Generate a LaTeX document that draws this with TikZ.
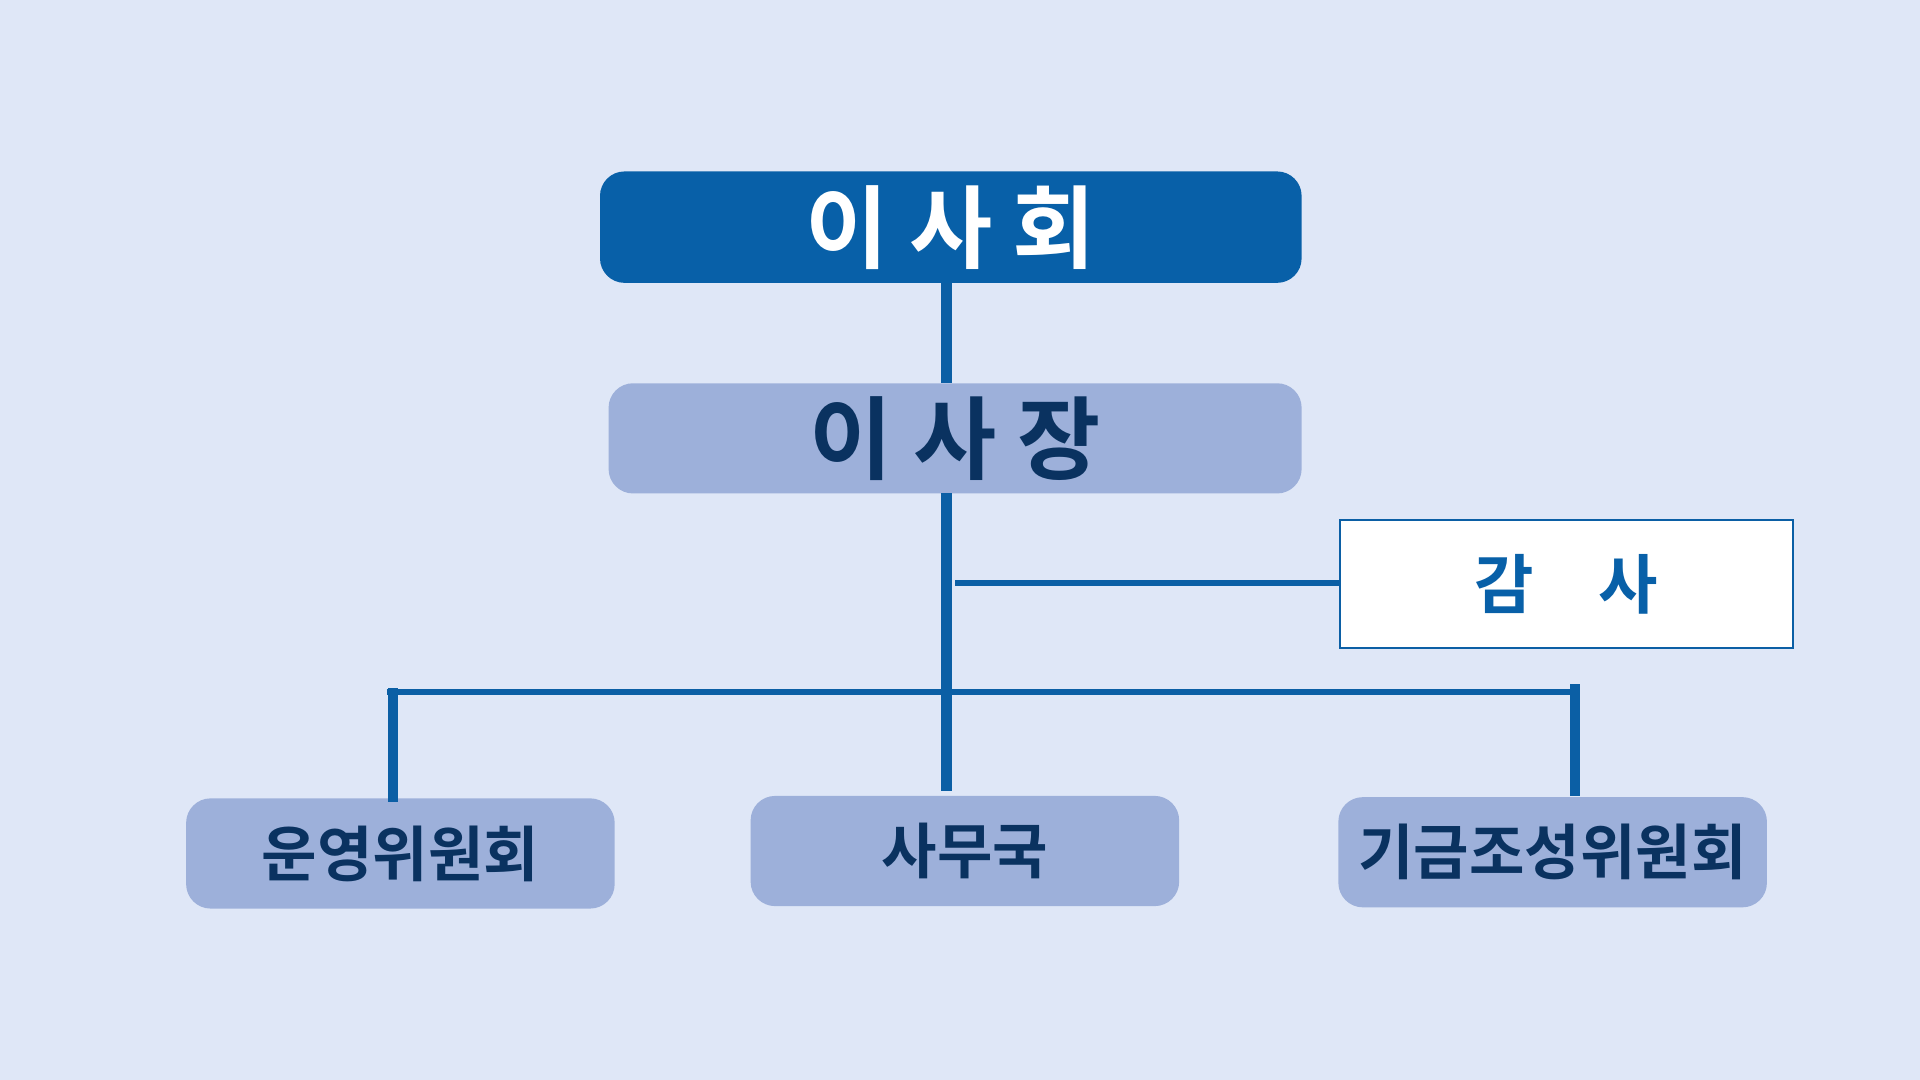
\documentclass[tikz,border=0pt]{standalone}
\usepackage{fontspec}
\newfontfamily\kr{Noto Sans CJK KR}
\newfontfamily\krb{Noto Sans CJK KR Bold}
\definecolor{bg}{HTML}{DFE7F7}
\definecolor{dark}{HTML}{0860A8}
\definecolor{light}{HTML}{9DB0DA}
\definecolor{txt}{HTML}{0A3260}
\definecolor{ln}{HTML}{0B5FA5}
\begin{document}
\begin{tikzpicture}[x=0.01cm,y=-0.01cm,
 box/.style={rounded corners=0.2cm,inner sep=0pt},
 conn/.style={draw=ln,line width=1.6pt}]
\fill[bg] (0,0) rectangle (1568,882);
\useasboundingbox (0,0) rectangle (1568,882);
\fill[dark,box] (490,140) rectangle (1063,231);
\node (a) at (776.5,185.5) {\krb\fontsize{21}{24}\selectfont\color{white}이 사 회};
\fill[light,box] (497,313) rectangle (1063,403);
\node (b) at (780,358) {\krb\fontsize{21}{24}\selectfont\color{txt}이 사 장};
\draw[ln,fill=white,line width=0.5pt] (1094,425) rectangle (1464,529);
\node (c) at (1279,477) {\krb\fontsize{15}{18}\selectfont\color{dark}감\quad 사};
\fill[light,box] (152,652) rectangle (502,742);
\node (d) at (327,697) {\krb\fontsize{14}{17}\selectfont\color{txt}운영위원회};
\fill[light,box] (613,650) rectangle (963,740);
\node (e) at (788,695) {\krb\fontsize{14}{17}\selectfont\color{txt}사무국};
\fill[light,box] (1093,651) rectangle (1443,741);
\node (f) at (1268,696) {\krb\fontsize{14}{17}\selectfont\color{txt}기금조성위원회};
\coordinate (t1) at (773,231);
\coordinate (t2) at (773,313);
\coordinate (v1) at (773,403);
\coordinate (v2) at (773,646);
\coordinate (h1) at (780,476);
\coordinate (h2) at (1094,476);
\coordinate (l1) at (316,565);
\coordinate (l2) at (1286,565);
\coordinate (d1) at (321,562);
\coordinate (d2) at (321,655);
\coordinate (f1) at (1286,559);
\coordinate (f2) at (1286,650);
\draw[conn,line width=2.4pt] (t1) -- (t2);
\draw[conn,line width=2.4pt] (v1) -- (v2);
\draw[conn,line width=1.4pt] (h1) -- (h2);
\draw[conn,line width=1.4pt] (l1) -- (l2);
\draw[conn,line width=2.4pt] (d1) -- (d2);
\draw[conn,line width=2.4pt] (f1) -- (f2);
\end{tikzpicture}
\end{document}
